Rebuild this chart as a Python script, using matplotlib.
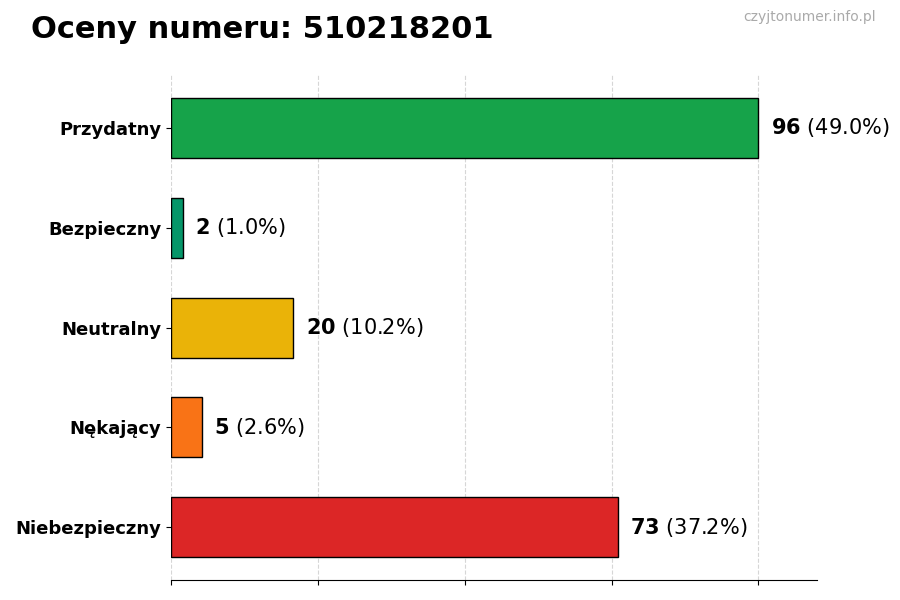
import matplotlib
matplotlib.use("Agg")
import matplotlib.pyplot as plt

categories = ["Przydatny", "Bezpieczny", "Neutralny", "Nękający", "Niebezpieczny"]
values = [96, 2, 20, 5, 73]
percents = ["49.0%", "1.0%", "10.2%", "2.6%", "37.2%"]
colors = ["#16a34a", "#059669", "#eab308", "#f97316", "#dc2626"]

fig = plt.figure(figsize=(9, 6), dpi=100)
ax = fig.add_axes([0.19, 0.033, 0.718, 0.842])
y = list(range(len(categories)))
ax.barh(y, values, height=0.6, color=colors, edgecolor="black", linewidth=1, zorder=3)
ax.set_ylim(len(categories) - 0.47, -0.53)
ax.set_xlim(0, max(values) * 1.1)
ax.set_xticks([0, 24, 48, 72, 96])
ax.set_xticklabels([])
ax.set_yticks(y)
ax.set_yticklabels(categories, fontsize=13, fontweight="bold")
ax.grid(axis="x", linestyle="--", color="#cccccc", alpha=0.8, zorder=0)
for s in ["top", "right", "left"]:
    ax.spines[s].set_visible(False)
for yi, v, p in zip(y, values, percents):
    ax.annotate("", xy=(0, 0))
    t = ax.text(v + 2, yi, f"$\\bf{{{v}}}$ ({p})", va="center", ha="left", fontsize=15)
fig.text(0.034, 0.95, "Oceny numeru: 510218201", fontsize=22, fontweight="bold", va="center")
fig.text(0.973, 0.972, "czyjtonumer.info.pl", fontsize=10, color="#aaaaaa", ha="right", va="center")
fig.savefig("out.png", dpi=100)
